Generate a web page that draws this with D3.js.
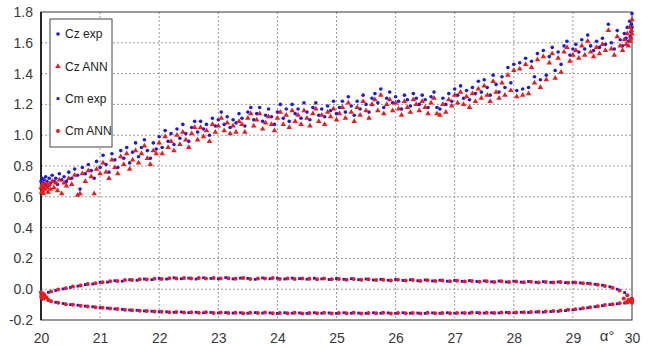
<!DOCTYPE html>
<html>
<head>
<meta charset="utf-8">
<script src="https://cdn.jsdelivr.net/npm/d3@7"></script>
<style>
  body { margin: 0; background: #fff; }
  svg { display: block; font-family: "Liberation Sans", Arial, sans-serif; }
</style>
</head>
<body>
<div id="chart"></div>
<script>
// --- data ---
const xTicks = [20, 21, 22, 23, 24, 25, 26, 27, 28, 29, 30];
const yTicks = [-0.2, 0, 0.2, 0.4, 0.6, 0.8, 1.0, 1.2, 1.4, 1.6, 1.8];
const yTickLabels = ["-0.2", "0.0", "0.2", "0.4", "0.6", "0.8", "1.0", "1.2", "1.4", "1.6", "1.8"];
const seriesNames = ["Cz exp", "Cz ANN", "Cm exp", "Cm ANN"];

// Cz: angle of attack and measured / predicted values
const czAlpha = [
  20.00,20.01,20.02,20.03,20.04,20.05,20.07,20.08,20.10,20.12,20.14,20.16,20.19,20.22,20.25,20.28,
  20.31,20.35,20.39,20.43,20.47,20.52,20.57,20.62,20.66,20.70,20.75,20.80,20.85,20.90,20.94,
  21.00,21.05,21.10,21.15,21.20,21.25,21.30,21.35,21.40,21.45,21.50,21.55,21.60,21.65,21.70,21.75,21.80,21.85,21.90,21.95,
  22.00,22.05,22.10,22.15,22.20,22.25,22.30,22.35,22.40,22.45,22.50,22.55,22.60,22.65,22.70,22.75,22.80,22.85,22.90,22.95,
  23.00,23.05,23.10,23.15,23.20,23.25,23.30,23.35,23.40,23.45,23.50,23.55,23.60,23.65,23.70,23.75,23.80,23.85,23.90,23.95,
  24.00,24.05,24.10,24.15,24.20,24.25,24.30,24.35,24.40,24.45,24.50,24.55,24.60,24.65,24.70,24.75,24.80,24.85,24.90,24.95,
  25.00,25.05,25.10,25.15,25.20,25.25,25.30,25.35,25.40,25.45,25.50,25.55,25.60,25.65,25.70,25.75,25.80,25.85,25.90,25.95,
  26.00,26.05,26.10,26.15,26.20,26.25,26.30,26.35,26.40,26.45,26.50,26.55,26.60,26.65,26.70,26.75,26.80,26.85,26.90,26.95,
  27.00,27.05,27.10,27.15,27.20,27.25,27.30,27.35,27.40,27.45,27.50,27.55,27.60,27.65,27.70,27.75,27.80,27.85,27.90,27.95,
  28.00,28.05,28.10,28.15,28.20,28.25,28.30,28.35,28.40,28.45,28.50,28.55,28.60,28.65,28.70,28.75,28.80,28.85,28.90,28.95,
  29.00,29.05,29.10,29.15,29.20,29.25,29.30,29.35,29.40,29.45,29.50,29.55,29.60,29.65,29.70,29.75,29.80,
  29.84,29.87,29.90,29.92,29.94,29.96,29.98,30.00,29.99,29.97,30.00
];
const czExp = [
  .70,.67,.72,.69,.66,.71,.68,.73,.70,.67,.72,.69,.74,.70,.72,.68,
  .75,.71,.73,.70,.76,.72,.78,.74,.65,.79,.75,.81,.77,.72,.83,
  .79,.87,.81,.76,.88,.84,.79,.90,.85,.92,.82,.89,.95,.86,.92,.97,.90,.85,.95,.91,
  .99,.92,1.03,.96,1.01,.94,1.04,.98,1.07,1.01,.96,1.05,1.09,1.02,1.09,1.04,1.07,1.00,1.11,1.06,
  1.10,1.15,1.07,1.12,1.05,1.10,1.08,1.14,1.11,1.06,1.15,1.18,1.10,1.14,1.18,1.09,1.13,1.17,1.12,1.07,
  1.15,1.20,1.11,1.17,1.09,1.20,1.14,1.17,1.11,1.21,1.15,1.10,1.18,1.21,1.13,1.17,1.12,1.19,1.16,1.22,
  1.14,1.18,1.22,1.15,1.25,1.19,1.13,1.22,1.17,1.26,1.20,1.15,1.24,1.27,1.21,1.30,1.18,1.24,1.28,1.21,
  1.25,1.22,1.17,1.26,1.23,1.19,1.27,1.24,1.20,1.26,1.23,1.18,1.25,1.28,1.18,1.17,1.24,1.20,1.27,1.22,
  1.30,1.26,1.32,1.24,1.29,1.23,1.31,1.27,1.35,1.28,1.36,1.31,1.26,1.39,1.33,1.28,1.38,1.31,1.44,1.34,
  1.46,1.29,1.47,1.30,1.50,1.31,1.48,1.38,1.53,1.36,1.55,1.39,1.51,1.57,1.42,1.54,1.46,1.58,1.61,1.52,
  1.56,1.59,1.54,1.62,1.56,1.65,1.58,1.55,1.61,1.57,1.63,1.59,1.72,1.60,1.56,1.68,1.62,
  1.58,1.66,1.63,1.70,1.61,1.74,1.67,1.79,1.72,1.64,1.70
];
const czAnn = [
  .66,.63,.68,.64,.62,.67,.65,.69,.66,.63,.68,.65,.70,.66,.69,.64,
  .71,.62,.69,.67,.72,.68,.74,.61,.62,.75,.70,.77,.73,.62,.78,
  .75,.82,.76,.72,.84,.79,.75,.86,.81,.88,.78,.84,.90,.82,.88,.93,.85,.81,.90,.88,
  .95,.88,.99,.92,.96,.90,1.00,.94,1.02,.97,.92,1.01,1.05,.97,1.05,.99,1.03,.96,1.07,1.02,
  1.06,1.11,1.03,1.08,1.01,1.06,1.02,1.09,1.07,1.02,1.11,1.14,1.06,1.10,1.14,1.04,1.08,1.12,1.07,1.03,
  1.11,1.15,1.07,1.13,1.05,1.16,1.09,1.13,1.07,1.16,1.11,1.06,1.14,1.17,1.09,1.13,1.07,1.15,1.12,1.17,
  1.10,1.14,1.18,1.11,1.21,1.15,1.09,1.18,1.13,1.22,1.16,1.11,1.20,1.23,1.16,1.26,1.14,1.20,1.23,1.16,
  1.21,1.17,1.13,1.22,1.18,1.15,1.23,1.20,1.16,1.22,1.18,1.14,1.21,1.24,1.14,1.13,1.20,1.15,1.23,1.19,
  1.26,1.21,1.28,1.20,1.25,1.18,1.27,1.22,1.30,1.24,1.32,1.26,1.22,1.35,1.28,1.24,1.34,1.26,1.39,1.29,
  1.42,1.25,1.43,1.26,1.46,1.27,1.44,1.34,1.49,1.31,1.51,1.36,1.47,1.53,1.37,1.50,1.41,1.54,1.57,1.48,
  1.52,1.55,1.50,1.58,1.52,1.61,1.54,1.51,1.57,1.53,1.59,1.55,1.68,1.56,1.52,1.64,1.58,
  1.55,1.62,1.59,1.66,1.58,1.70,1.63,1.75,1.68,1.61,1.66
];

// Cm: the loop, upper and lower branches
const cmAlpha = [
  20.000,20.125,20.250,20.375,20.500,20.625,20.750,20.875,
  21.000,21.125,21.250,21.375,21.500,21.625,21.750,21.875,
  22.000,22.125,22.250,22.375,22.500,22.625,22.750,22.875,
  23.000,23.125,23.250,23.375,23.500,23.625,23.750,23.875,
  24.000,24.125,24.250,24.375,24.500,24.625,24.750,24.875,
  25.000,25.125,25.250,25.375,25.500,25.625,25.750,25.875,
  26.000,26.125,26.250,26.375,26.500,26.625,26.750,26.875,
  27.000,27.125,27.250,27.375,27.500,27.625,27.750,27.875,
  28.000,28.125,28.250,28.375,28.500,28.625,28.750,28.875,
  29.000,29.125,29.250,29.375,29.500,29.625,29.750,29.875,
  30.000
];
const cmExpUpper = [
  -0.035,-0.020,-0.008,0.002,0.012,0.020,0.030,0.034,
  0.044,0.046,0.055,0.052,0.061,0.058,0.066,0.062,
  0.070,0.066,0.074,0.068,0.072,0.066,0.074,0.070,
  0.068,0.075,0.067,0.072,0.070,0.064,0.073,0.068,
  0.071,0.066,0.072,0.069,0.065,0.071,0.067,0.063,
  0.069,0.064,0.068,0.062,0.066,0.060,0.064,0.058,
  0.063,0.057,0.061,0.055,0.060,0.054,0.058,0.052,
  0.057,0.051,0.056,0.050,0.054,0.048,0.053,0.047,
  0.052,0.046,0.050,0.045,0.049,0.044,0.047,0.043,
  0.044,0.041,0.038,0.032,0.026,0.016,0.000,-0.022,
  -0.060
];
const cmExpLower = [
  -0.055,-0.072,-0.085,-0.093,-0.100,-0.104,-0.110,-0.114,
  -0.120,-0.123,-0.128,-0.131,-0.135,-0.137,-0.141,-0.143,
  -0.146,-0.147,-0.150,-0.148,-0.152,-0.150,-0.153,-0.151,
  -0.154,-0.152,-0.155,-0.153,-0.156,-0.152,-0.155,-0.154,
  -0.157,-0.153,-0.156,-0.154,-0.157,-0.153,-0.156,-0.154,
  -0.157,-0.153,-0.156,-0.155,-0.157,-0.153,-0.156,-0.154,
  -0.157,-0.153,-0.156,-0.155,-0.157,-0.154,-0.156,-0.153,
  -0.156,-0.154,-0.155,-0.152,-0.155,-0.153,-0.154,-0.151,
  -0.153,-0.150,-0.151,-0.148,-0.149,-0.145,-0.144,-0.139,
  -0.134,-0.128,-0.121,-0.114,-0.107,-0.100,-0.095,-0.090,
  -0.078
];
const cmAnnAlpha = [
  20.04,20.17,20.29,20.42,20.54,20.67,20.79,20.92,
  21.04,21.17,21.29,21.42,21.54,21.67,21.79,21.92,
  22.04,22.17,22.29,22.42,22.54,22.67,22.79,22.92,
  23.04,23.17,23.29,23.42,23.54,23.67,23.79,23.92,
  24.04,24.17,24.29,24.42,24.54,24.67,24.79,24.92,
  25.04,25.17,25.29,25.42,25.54,25.67,25.79,25.92,
  26.04,26.17,26.29,26.42,26.54,26.67,26.79,26.92,
  27.04,27.17,27.29,27.42,27.54,27.67,27.79,27.92,
  28.04,28.17,28.29,28.42,28.54,28.67,28.79,28.92,
  29.04,29.17,29.29,29.42,29.54,29.67,29.79,29.92,
  30.00
];
const cmAnnUpper = [
  -0.030,-0.015,-0.002,0.006,0.017,0.024,0.033,0.038,
  0.045,0.051,0.053,0.059,0.060,0.064,0.063,0.068,
  0.067,0.071,0.069,0.073,0.070,0.072,0.069,0.073,
  0.070,0.071,0.068,0.073,0.066,0.070,0.069,0.072,
  0.067,0.070,0.066,0.069,0.068,0.064,0.069,0.065,
  0.067,0.062,0.066,0.061,0.064,0.059,0.062,0.057,
  0.061,0.056,0.059,0.054,0.058,0.053,0.056,0.051,
  0.055,0.050,0.054,0.049,0.052,0.047,0.051,0.046,
  0.050,0.045,0.048,0.044,0.047,0.043,0.046,0.042,
  0.043,0.039,0.035,0.029,0.021,0.010,-0.008,-0.040,
  -0.065
];
const cmAnnLower = [
  -0.062,-0.078,-0.088,-0.097,-0.101,-0.108,-0.112,-0.118,
  -0.121,-0.126,-0.129,-0.134,-0.136,-0.140,-0.142,-0.145,
  -0.147,-0.149,-0.148,-0.152,-0.149,-0.153,-0.150,-0.154,
  -0.152,-0.155,-0.153,-0.156,-0.153,-0.155,-0.152,-0.156,
  -0.154,-0.156,-0.153,-0.157,-0.154,-0.156,-0.153,-0.157,
  -0.155,-0.156,-0.153,-0.157,-0.154,-0.156,-0.153,-0.157,
  -0.155,-0.156,-0.154,-0.157,-0.153,-0.156,-0.154,-0.156,
  -0.154,-0.155,-0.152,-0.155,-0.153,-0.154,-0.151,-0.153,
  -0.151,-0.150,-0.148,-0.147,-0.144,-0.142,-0.138,-0.134,
  -0.130,-0.124,-0.117,-0.110,-0.103,-0.097,-0.092,-0.086,
  -0.072
];
// extra ANN points crowding the two tips of the loop
const cmAnnTips = [
  [20.00,-0.020],[20.01,-0.045],[20.02,-0.060],[20.06,-0.038],[20.09,-0.052],[20.12,-0.068],
  [29.86,-0.060],[29.90,-0.085],[29.94,-0.070],[29.97,-0.080],[29.99,-0.062],[30.00,-0.088]
];

// --- layout ---
const W = 651, H = 347;
const margin = { top: 12, right: 19, bottom: 27, left: 41 };
const width = W - margin.left - margin.right;
const height = H - margin.top - margin.bottom;

const blue = "#1a1ae6";
const red = "#f01818";
const textColor = "#3a3a3a";

const svg = d3.select("#chart").append("svg")
  .attr("width", W)
  .attr("height", H);

const g = svg.append("g")
  .attr("transform", `translate(${margin.left},${margin.top})`);

const x = d3.scaleLinear().domain([20, 30]).range([0, width]);
const y = d3.scaleLinear().domain([-0.2, 1.8]).range([height, 0]);

// grid
g.append("g")
  .selectAll("line")
  .data(yTicks.slice(1, -1))
  .join("line")
  .attr("x1", 0).attr("x2", width)
  .attr("y1", d => y(d)).attr("y2", d => y(d))
  .attr("stroke", "#9a9a9a")
  .attr("stroke-dasharray", "2,2");

g.append("g")
  .selectAll("line")
  .data(xTicks.slice(1, -1))
  .join("line")
  .attr("y1", 0).attr("y2", height)
  .attr("x1", d => x(d)).attr("x2", d => x(d))
  .attr("stroke", "#9a9a9a")
  .attr("stroke-dasharray", "2,2");

// frame
g.append("rect")
  .attr("width", width).attr("height", height)
  .attr("fill", "none")
  .attr("stroke", "#333");
g.append("line")
  .attr("x1", 0).attr("x2", 0).attr("y1", 0).attr("y2", height)
  .attr("stroke", "#000").attr("stroke-width", 1.5);

// axes
const yAxis = g.append("g")
  .call(d3.axisLeft(y).tickValues(yTicks).tickSize(0).tickPadding(8)
    .tickFormat((d, i) => yTickLabels[i]));
const xAxis = g.append("g")
  .attr("transform", `translate(0,${height})`)
  .call(d3.axisBottom(x).tickValues(xTicks).tickSize(0).tickPadding(13)
    .tickFormat(d3.format("d")));
[yAxis, xAxis].forEach(a => {
  a.select(".domain").remove();
  a.selectAll("text")
    .attr("fill", textColor)
    .style("font-size", "14px")
    .style("font-family", "Liberation Sans, Arial, sans-serif");
});

g.append("text")
  .attr("x", x(29.58))
  .attr("y", height + 21)
  .attr("text-anchor", "middle")
  .attr("fill", textColor)
  .style("font-size", "15px")
  .text("α°");

// marks
const czExpPts = czAlpha.map((a, i) => [a, czExp[i]]);
const czAnnPts = czAlpha.map((a, i) => [a, czAnn[i]]);
const cmExpPts = cmAlpha.map((a, i) => [a, cmExpUpper[i]])
  .concat(cmAlpha.map((a, i) => [a, cmExpLower[i]]));
const cmAnnPts = cmAnnAlpha.map((a, i) => [a, cmAnnUpper[i]])
  .concat(cmAnnAlpha.map((a, i) => [a, cmAnnLower[i]]))
  .concat(cmAnnTips);

const tri = d3.symbol().type(d3.symbolTriangle).size(13);
const sq = d3.symbol().type(d3.symbolSquare).size(8);

g.append("g").selectAll("circle")
  .data(czExpPts)
  .join("circle")
  .attr("cx", d => x(d[0])).attr("cy", d => y(d[1]))
  .attr("r", 1.8)
  .attr("fill", blue);

g.append("g").selectAll("path")
  .data(czAnnPts)
  .join("path")
  .attr("transform", d => `translate(${x(d[0])},${y(d[1])})`)
  .attr("d", tri)
  .attr("fill", red);

g.append("g").selectAll("path")
  .data(cmExpPts)
  .join("path")
  .attr("transform", d => `translate(${x(d[0])},${y(d[1])})`)
  .attr("d", sq)
  .attr("fill", blue);

g.append("g").selectAll("circle")
  .data(cmAnnPts)
  .join("circle")
  .attr("cx", d => x(d[0])).attr("cy", d => y(d[1]))
  .attr("r", 2)
  .attr("fill", red);

// legend
const legend = svg.append("g").attr("transform", "translate(50,19)");
legend.append("rect")
  .attr("width", 62).attr("height", 128)
  .attr("fill", "#fff")
  .attr("stroke", "#444");

const legendRows = legend.selectAll("g.row")
  .data(seriesNames)
  .join("g")
  .attr("class", "row")
  .attr("transform", (d, i) => `translate(8,${15 + i * 32.3})`);

legendRows.each(function (d, i) {
  const row = d3.select(this);
  if (i === 0) row.append("circle").attr("r", 1.8).attr("fill", blue);
  if (i === 1) row.append("path").attr("d", tri).attr("fill", red);
  if (i === 2) row.append("path").attr("d", sq).attr("fill", blue);
  if (i === 3) row.append("circle").attr("r", 2).attr("fill", red);
});

legendRows.append("text")
  .attr("x", 7)
  .attr("dy", "0.35em")
  .attr("fill", "#222")
  .style("font-size", "12px")
  .text(d => d);
</script>
</body>
</html>
